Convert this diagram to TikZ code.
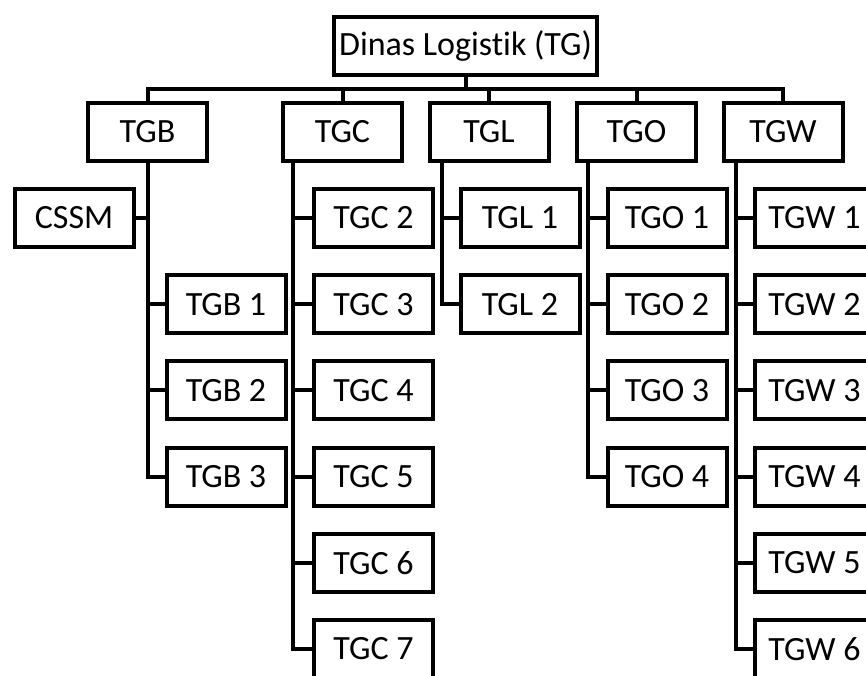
\documentclass[tikz,border=0pt]{standalone}
\usepackage{fontspec}
\setmainfont{Carlito}[Ligatures=NoCommon]
\begin{document}
\begin{tikzpicture}[x=1pt, y=-1pt, line width=4pt,
  every node/.style={font=\fontsize{34}{40}\selectfont},
  unit/.style={draw, minimum width=119pt, minimum height=58pt, inner sep=1pt}]
  \useasboundingbox (0,0) rectangle (866,675);
  \clip (0,0) rectangle (866,675);
  % top level
  \node[unit, minimum width=263pt] (tg) at (465.5,46) {Dinas Logistik (TG)};
  \coordinate (bar) at (465.5,89);
  \draw (tg.south) -- (bar);
  \foreach \n/\t/\x in {tgb/TGB/147.5, tgc/TGC/342.5, tgl/TGL/489, tgo/TGO/636.5, tgw/TGW/783} {
    \node[unit] (\n) at (\x,131.5) {\t};
    \draw (bar) -| (\n.north);
  }
  % TGB
  \node[unit] (cssm) at (74,218) {CSSM};
  \draw (tgb.south) |- (cssm.east);
  \foreach \i in {1,2,3} {
    \node[unit] (tgb\i) at (226,{218+86.2*\i}) {TGB \i};
    \draw (tgb.south) |- (tgb\i.west);
  }
  % TGC
  \foreach \i in {2,...,7} {
    \node[unit] (tgc\i) at (373.5,{218+86.2*(\i-2)}) {TGC \i};
    \draw ([xshift=12pt]tgc.south west) |- (tgc\i.west);
  }
  % TGL, TGO, TGW
  \foreach \p/\t/\x/\s/\k in {tgl/TGL/520/14/2, tgo/TGO/667/13/4, tgw/TGW/814.5/14/6} {
    \foreach \i in {1,...,\k} {
      \node[unit] (\p\i) at (\x,{218+86.2*(\i-1)}) {\t\ \i};
      \draw ([xshift=\s pt]\p.south west) |- (\p\i.west);
    }
  }
\end{tikzpicture}
\end{document}
